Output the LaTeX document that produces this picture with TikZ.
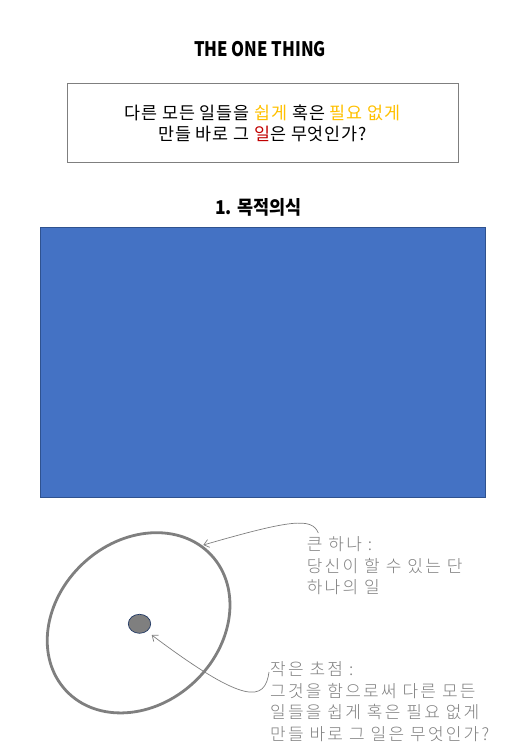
\documentclass[tikz,border=0pt]{standalone}
\usepackage{fontspec}
\usepackage{graphicx}
\setmainfont{Noto Sans CJK KR}
\newfontfamily\spacedfont[LetterSpace=13]{Noto Sans CJK KR Light}
\newfontfamily\boxfont[LetterSpace=5]{Noto Sans CJK KR}
\usetikzlibrary{arrows.meta,shapes.geometric}
\definecolor{boxgray}{HTML}{7F7F7F}
\definecolor{txtgray}{HTML}{7F7F7F}
\definecolor{accent}{HTML}{FFC000}
\definecolor{redacc}{HTML}{C00000}
\definecolor{bluefill}{HTML}{4472C4}
\definecolor{blueedge}{HTML}{2F528F}
\definecolor{dotedge}{HTML}{203864}
\tikzset{
  callout/.style={draw=txtgray, line width=0.7pt, -{Straight Barb[length=5pt,width=8pt]}},
  graytext/.style={text=txtgray, font=\spacedfont\fontsize{17}{21.4}\selectfont, align=left, inner sep=0pt},
}
\begin{document}
\begin{tikzpicture}[x=1pt,y=-1pt]
\useasboundingbox (0,0) rectangle (516,750);
% title
\node[inner sep=0pt] (title) at (260,49) {\scalebox{0.83}[1]{\fontsize{20}{24}\selectfont\bfseries THE ONE THING}};
% question box
\draw[boxgray, line width=0.9pt] (67.3,83.3) rectangle (458.3,162.3);
\node[inner sep=0pt, align=center, font=\boxfont\fontsize{17.4}{21.6}\selectfont] (question) at (262.5,123.5)
  {다른 모든 일들을 \textcolor{accent}{쉽게} 혹은 \textcolor{accent}{필요 없게}\\
   만들 바로 그 \textcolor{redacc}{일}은 무엇인가?};
% section heading
\node[inner sep=0pt] (heading) at (258.3,207) {\scalebox{0.92}[1]{\fontsize{19}{23}\selectfont\bfseries 1. 목적의식}};
% blue panel
\draw[fill=bluefill, draw=blueedge, line width=0.9pt] (40,227) rectangle (485.7,497.3);
% big ellipse
\draw[boxgray, line width=2.8pt] (138.6,622.8) ellipse[x radius=99.3, y radius=81.3, rotate=43];
\node[draw=dotedge, fill=boxgray, ellipse, inner sep=0pt, minimum width=22.4pt, minimum height=19pt, line width=0.7pt] (dot) at (139.5,623.8) {};
\coordinate (bigpt) at (203.3,545);
\coordinate (dotpt) at (151.7,635);
% labels
\node[graytext, anchor=west] (big) at (306.7,566) {큰 하나 :\\당신이 할 수 있는 단\\하나의 일};
\node[graytext, anchor=west] (small) at (270,701.7) {작은 초점 :\\그것을 함으로써 다른 모든\\일들을 쉽게 혹은 필요 없게\\만들 바로 그 일은 무엇인가?};
\coordinate (bigstart) at (318.3,533);
\coordinate (smallstart) at (269,672);
\draw[callout] (bigstart) .. controls (312,517) and (290,520) .. (bigpt);
\draw[callout] (smallstart) .. controls (265,702) and (245,705) .. (dotpt);
\end{tikzpicture}
\end{document}
